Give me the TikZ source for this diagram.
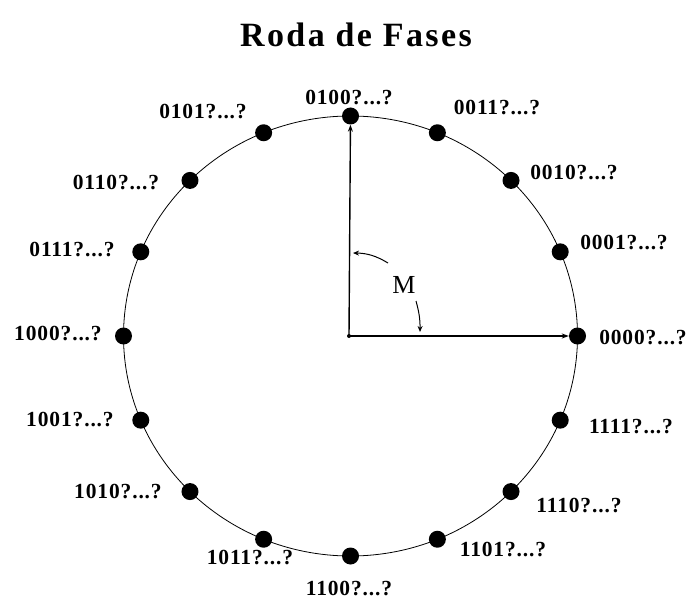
\documentclass[tikz,border=0pt]{standalone}
\usepackage{fontspec}
\setmainfont{Liberation Serif}
\newfontfamily\lblfont{Liberation Serif}[LetterSpace=4]
\newfontfamily\titlefont{Liberation Serif}[LetterSpace=7]
\usetikzlibrary{arrows.meta}
\begin{document}
\begin{tikzpicture}[x=1pt,y=1pt,
  dot/.style={circle,fill=black,inner sep=0pt,minimum size=17pt},
  lbl/.style={font=\lblfont\fontsize{21.5}{24}\selectfont\bfseries,inner sep=0pt},
  arr/.style={line width=1.4pt,-{Stealth[length=7pt,width=5pt]}},
  marr/.style={line width=1pt,-{Stealth[length=6pt,width=5pt]}}]
\useasboundingbox (0,0) rectangle (690,603);
\node[font=\titlefont\fontsize{34}{40}\selectfont\bfseries] (title) at (356,568) {Roda de Fases};
\draw[line width=0.8pt] (350.5,267) ellipse [x radius=227, y radius=220];
\foreach \i in {0,...,15}{
  \node[dot] (d\i) at ({350.5+227*cos(22.5*\i)},{267+220*sin(22.5*\i)}) {};
}
\node[circle,fill=black,inner sep=0pt,minimum size=4pt] (c) at (349,267) {};
\draw[arr] (c.center) -- (d4);
\draw[arr] (c.center) -- (d0);
\node[font=\fontsize{26}{30}\selectfont] (m) at (404,318) {M};
\coordinate (m1) at (388,340);
\coordinate (m1e) at (353,350);
\coordinate (m2) at (416,302);
\coordinate (m2e) at (420,271);
\draw[marr] (m1) to[bend right=15] (m1e);
\draw[marr] (m2) to[bend left=8] (m2e);
\node[lbl] (l0) at (643,265) {0000?...?};
\node[lbl] (l1) at (624,360) {0001?...?};
\node[lbl] (l2) at (574,430) {0010?...?};
\node[lbl] (l3) at (497,495) {0011?...?};
\node[lbl] (l4) at (349,505) {0100?...?};
\node[lbl] (l5) at (203,491) {0101?...?};
\node[lbl] (l6) at (116,420) {0110?...?};
\node[lbl] (l7) at (72,353) {0111?...?};
\node[lbl] (l8) at (58,269) {1000?...?};
\node[lbl] (l9) at (70,183) {1001?...?};
\node[lbl] (l10) at (118,111) {1010?...?};
\node[lbl] (l11) at (250,46) {1011?...?};
\node[lbl] (l12) at (349,15) {1100?...?};
\node[lbl] (l13) at (503,54) {1101?...?};
\node[lbl] (l14) at (579,98) {1110?...?};
\node[lbl] (l15) at (631,176) {1111?...?};
\end{tikzpicture}
\end{document}
